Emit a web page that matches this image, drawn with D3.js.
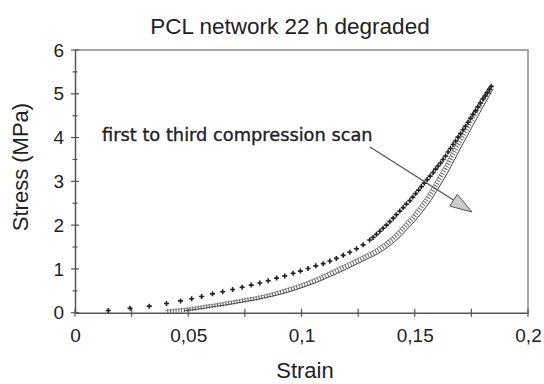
<!DOCTYPE html>
<html>
<head>
<meta charset="utf-8">
<script src="https://cdn.jsdelivr.net/npm/d3@7"></script>
<style>
	body { margin: 0; background: #fff; }
	text { font-family: "Liberation Sans", Arial, sans-serif; fill: #222; }
	.note { font-family: "DejaVu Sans", Verdana, sans-serif; stroke: #222; stroke-width: 0.35; }
</style>
</head>
<body>
<svg id="chart-1" width="544" height="384"></svg>
<script>
// Tick values / labels
const xTicks = [0, 0.05, 0.1, 0.15, 0.2];
const xTickLabels = ['0', '0,05', '0,1', '0,15', '0,2'];
const xMinorTicks = [0.025, 0.075, 0.125, 0.175];
const yTicks = [0, 1, 2, 3, 4, 5, 6];
const yMinorTicks = [0.5, 1.5, 2.5, 3.5, 4.5, 5.5];

// First compression scan (+ markers)
const strain1 = [0.0147,0.0243,0.0328,0.0404,0.0466,0.0515,0.0559,0.0607,0.0652,0.0696,
	0.0738,0.0778,0.0816,0.0853,0.0890,0.0926,0.0963,0.0995,0.1029,0.1063,
	0.1096,0.1125,0.1154,0.1184,0.1213,0.1243,0.1272,0.1301,0.1316,0.1331,
	0.1346,0.1360,0.1375,0.1390,0.1405,0.1419,0.1434,0.1449,0.1463,0.1478,
	0.1491,0.1504,0.1517,0.1529,0.1542,0.1555,0.1568,0.1581,0.1592,0.1603,
	0.1614,0.1625,0.1636,0.1647,0.1658,0.1669,0.1680,0.1691,0.1702,0.1713,
	0.1724,0.1735,0.1746,0.1757,0.1768,0.1779,0.1790,0.1801,0.1811,0.1820,
	0.1829,0.1838];
const stress1 = [0.05,0.10,0.15,0.21,0.27,0.32,0.37,0.43,0.48,0.53,
	0.58,0.63,0.68,0.73,0.79,0.84,0.90,0.95,1.01,1.07,
	1.12,1.18,1.24,1.31,1.38,1.46,1.55,1.66,1.72,1.79,
	1.86,1.93,2.00,2.08,2.16,2.24,2.32,2.40,2.48,2.56,
	2.64,2.72,2.80,2.88,2.96,3.04,3.12,3.20,3.28,3.35,
	3.42,3.50,3.58,3.67,3.75,3.84,3.92,4.01,4.09,4.18,
	4.26,4.35,4.44,4.53,4.61,4.70,4.79,4.88,4.95,5.02,
	5.10,5.17];

// Second compression scan (dash markers)
const strain2 = [0.0407,0.0450,0.0493,0.0537,0.0581,0.0625,0.0669,0.0713,0.0757,0.0801,
	0.0846,0.0890,0.0934,0.0978,0.1022,0.1066,0.1110,0.1154,0.1199,0.1243,
	0.1287,0.1331,0.1368,0.1404,0.1434,0.1463,0.1493,0.1522,0.1551,0.1574,
	0.1596,0.1618,0.1643,0.1665,0.1688,0.1713,0.1735,0.1757,0.1779,0.1801,
	0.1823,0.1840];
const stress2 = [0.03,0.05,0.07,0.10,0.14,0.17,0.21,0.25,0.29,0.33,
	0.38,0.44,0.51,0.58,0.66,0.75,0.85,0.96,1.07,1.18,
	1.29,1.41,1.54,1.69,1.84,2.00,2.17,2.36,2.56,2.74,
	2.93,3.13,3.35,3.57,3.80,4.04,4.25,4.46,4.66,4.86,
	5.04,5.15];

// Third compression scan (plain line)
const strain3 = [0.0480,0.0537,0.0581,0.0625,0.0669,0.0713,0.0757,0.0801,0.0846,0.0890,
	0.0934,0.0978,0.1022,0.1066,0.1110,0.1154,0.1199,0.1243,0.1287,0.1331,
	0.1368,0.1404,0.1434,0.1463,0.1493,0.1522,0.1551,0.1574,0.1596,0.1618,
	0.1643,0.1665,0.1688,0.1713,0.1735,0.1757,0.1779,0.1801,0.1823,0.1845];
const stress3 = [0.04,0.08,0.11,0.15,0.18,0.22,0.26,0.30,0.35,0.40,
	0.46,0.53,0.61,0.69,0.79,0.89,1.00,1.11,1.22,1.33,
	1.45,1.59,1.73,1.89,2.05,2.23,2.42,2.59,2.77,2.96,
	3.18,3.39,3.62,3.86,4.07,4.28,4.49,4.70,4.90,5.10];

const svg = d3.select('svg#chart-1');
const m = {left: 75, right: 528, top: 50, bottom: 312.7};

const x = d3.scaleLinear().domain([0, 0.2]).range([m.left, m.right]);
const y = d3.scaleLinear().domain([0, 6]).range([m.bottom, m.top]);

const pts = (xs, ys) => xs.map((d, i) => [d, ys[i]]);
const line = d3.line().x(d => x(d[0])).y(d => y(d[1]));

// frame (top + right lighter)
svg.append('path')
	.attr('d', `M${m.left},${m.top}H${m.right}V${m.bottom}`)
	.attr('fill', 'none').attr('stroke', '#888').attr('stroke-width', 1.5);

// axes
const xAxis = svg.append('g').attr('transform', `translate(0,${m.bottom})`)
	.call(d3.axisBottom(x).tickValues(xTicks).tickSize(0).tickPadding(16)
		.tickFormat((d, i) => xTickLabels[i]));
xAxis.select('.domain').attr('stroke', '#555').attr('stroke-width', 1.5);
xAxis.selectAll('text').attr('font-size', 19).attr('font-family', null);

const yAxis = svg.append('g').attr('transform', `translate(${m.left},0)`)
	.call(d3.axisLeft(y).tickValues(yTicks).tickSize(0).tickPadding(11).tickFormat(d3.format('d')));
yAxis.select('.domain').attr('stroke', '#555').attr('stroke-width', 1.5);
yAxis.selectAll('text').attr('font-size', 19).attr('font-family', null);

// crossing tick marks
const tickG = svg.append('g').attr('stroke', '#555').attr('stroke-width', 1.2);
tickG.selectAll('.xt').data(xTicks.concat(xMinorTicks)).enter().append('line')
	.attr('x1', d => x(d)).attr('x2', d => x(d))
	.attr('y1', m.bottom - 4).attr('y2', m.bottom + 4);
tickG.selectAll('.yt').data(yTicks).enter().append('line')
	.attr('y1', d => y(d)).attr('y2', d => y(d))
	.attr('x1', m.left - 4).attr('x2', m.left + 4);
tickG.selectAll('.ym').data(yMinorTicks).enter().append('line')
	.attr('y1', d => y(d)).attr('y2', d => y(d))
	.attr('x1', m.left - 2.5).attr('x2', m.left + 2.5);

// scan 2: hatched band
svg.append('path').datum(pts(strain2, stress2))
	.attr('d', line).attr('fill', 'none')
	.attr('stroke', '#666').attr('stroke-width', 4.5).attr('stroke-dasharray', '1,1.8');
svg.append('path').datum(pts(strain2, stress2))
	.attr('d', line).attr('fill', 'none')
	.attr('stroke', '#777').attr('stroke-width', 0.8)
	.attr('transform', 'translate(-2,-1)');

// scan 3: thin line
svg.append('path').datum(pts(strain3, stress3))
	.attr('d', line).attr('fill', 'none')
	.attr('stroke', '#444').attr('stroke-width', 1);

// scan 1: + markers
const plus = svg.append('g').attr('stroke', '#222').attr('stroke-width', 1.6);
plus.selectAll('path').data(pts(strain1, stress1)).enter().append('path')
	.attr('d', d => `M${x(d[0]) - 2.5},${y(d[1])}h5M${x(d[0])},${y(d[1]) - 2.5}v5`);

// title and axis labels
svg.append('text').attr('x', 290).attr('y', 34).attr('text-anchor', 'middle')
	.attr('font-size', 22.5).text('PCL network 22 h degraded');
svg.append('text').attr('x', 305).attr('y', 378).attr('text-anchor', 'middle')
	.attr('font-size', 22).text('Strain');
svg.append('text').attr('transform', 'translate(28,167) rotate(-90)')
	.attr('text-anchor', 'middle').attr('font-size', 22).text('Stress (MPa)');

// annotation with arrow
svg.append('text').attr('class', 'note').attr('x', 102).attr('y', 141)
	.attr('font-size', 17.8).text('first to third compression scan');
svg.append('line').attr('x1', 370).attr('y1', 147).attr('x2', 455).attr('y2', 201)
	.attr('stroke', '#555').attr('stroke-width', 1.3);
svg.append('path').attr('d', 'M472,212L449.7,206.1L457.3,194.3Z')
	.attr('fill', '#ccc').attr('stroke', '#555').attr('stroke-width', 1);
</script>
</body>
</html>
